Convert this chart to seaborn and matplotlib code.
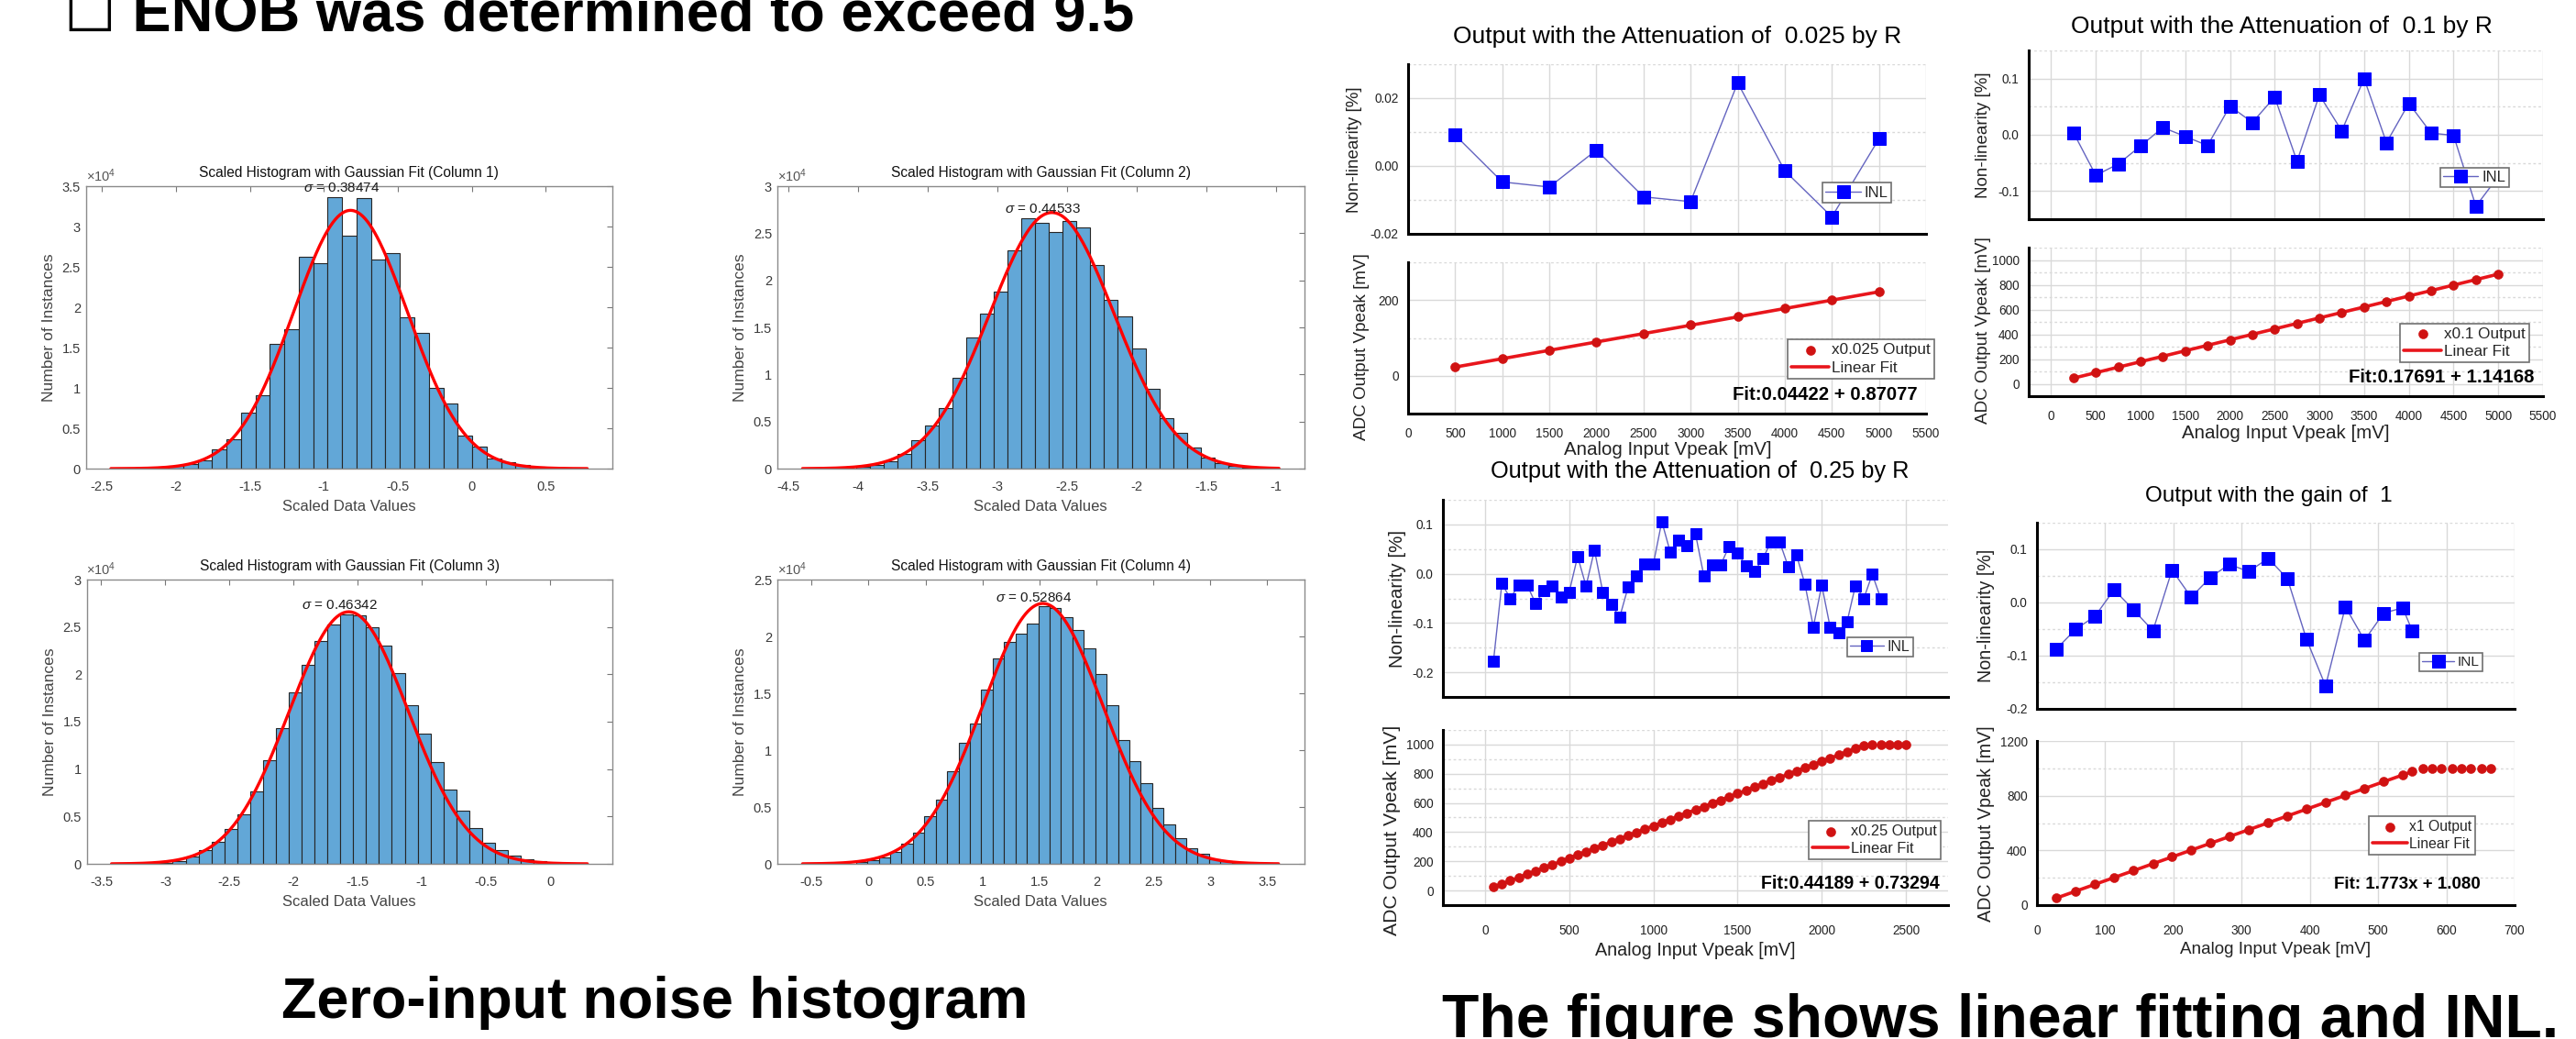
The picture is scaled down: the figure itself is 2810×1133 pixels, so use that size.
import numpy as np
import pandas as pd
import matplotlib
matplotlib.use("Agg")
import matplotlib.pyplot as plt
import seaborn as sns

# ============================ DATA ============================
# ---- zero-input noise histograms (bin counts) ----
hist_titles = [
    "Scaled Histogram with Gaussian Fit (Column 1)",
    "Scaled Histogram with Gaussian Fit (Column 2)",
    "Scaled Histogram with Gaussian Fit (Column 3)",
    "Scaled Histogram with Gaussian Fit (Column 4)",
]
hist_first_edge = [-2.147, -4.015, -3.043, -0.110]
hist_bin_width = [0.0977, 0.0989, 0.1005, 0.1000]
h1_counts = [100, 300, 560, 1050, 2370, 3680, 6960, 9140, 15500, 17300, 26200, 25400,
             33600, 28900, 33500, 25900, 26700, 18800, 16800, 10000, 8100, 4100, 2700,
             1300, 750, 400, 200]
h2_counts = [160, 350, 800, 1510, 3060, 4600, 6380, 9690, 13880, 16450, 18770, 23220,
             26600, 26080, 25120, 26310, 25630, 21610, 17970, 16200, 12780, 8470, 5310,
             3800, 2250, 1160, 580, 260, 100]
h3_counts = [100, 320, 740, 1450, 2290, 3650, 5260, 7680, 10900, 14290, 18070, 20970,
             23490, 25230, 26360, 26190, 25000, 23070, 20100, 16710, 13770, 10710, 7840,
             5650, 3770, 2260, 1450, 870, 480, 260, 130]
h4_counts = [130, 320, 590, 1020, 1800, 2770, 4170, 5650, 8120, 10620, 12310, 15300,
             18090, 19490, 20270, 21150, 22630, 22500, 21690, 20560, 18950, 16670, 13920,
             10890, 9000, 7120, 4920, 3490, 2230, 1340, 860, 400, 215, 110]
hist_counts = [h1_counts, h2_counts, h3_counts, h4_counts]
# Gaussian fit parameters
hist_mu = [-0.82, -2.61, -1.57, 1.53]
hist_sigma = [0.38474, 0.44533, 0.46342, 0.52864]
hist_peak = [32000, 27200, 26600, 22900]
hist_curve_lo = [-2.44, -4.40, -3.42, -0.58]
hist_curve_hi = [0.78, -0.98, 0.29, 3.60]
hist_xticks = [
    [-2.5, -2, -1.5, -1, -0.5, 0, 0.5],
    [-4.5, -4, -3.5, -3, -2.5, -2, -1.5, -1],
    [-3.5, -3, -2.5, -2, -1.5, -1, -0.5, 0],
    [-0.5, 0, 0.5, 1, 1.5, 2, 2.5, 3, 3.5],
]
hist_ymax = [35000, 30000, 30000, 25000]

# ---- linearity / INL panels ----
A_title = "Output with the Attenuation of  0.025 by R"
A_x = [500, 1000, 1500, 2000, 2500, 3000, 3500, 4000, 4500, 5000]
A_inl = [0.0091, -0.0047, -0.0062, 0.0047, -0.0091, -0.0105, 0.0245, -0.0014, -0.0150, 0.0080]
A_out = [23, 45, 67, 89, 112, 134, 156, 178, 200, 222]
A_fit = (0.04422, 0.87077)
A_fit_text = "Fit:0.04422 + 0.87077"
A_legend = "x0.025 Output"

B_title = "Output with the Attenuation of  0.1 by R"
B_x = [250, 500, 750, 1000, 1250, 1500, 1750, 2000, 2250, 2500, 2750, 3000, 3250, 3500,
       3750, 4000, 4250, 4500, 4750, 5000]
B_inl = [0.004, -0.072, -0.052, -0.020, 0.013, -0.003, -0.019, 0.051, 0.022, 0.067,
         -0.047, 0.071, 0.007, 0.100, -0.014, 0.056, 0.003, -0.001, -0.127, -0.074]
B_out = [46, 90, 134, 178, 222, 266, 311, 355, 399, 443, 488, 532, 576, 620, 665, 709,
         753, 797, 842, 886]
B_fit = (0.17691, 1.14168)
B_fit_text = "Fit:0.17691 + 1.14168"
B_legend = "x0.1 Output"

C_title = "Output with the Attenuation of  0.25 by R"
C_inl_x = list(range(50, 2351, 50))
C_inl = [-0.178, -0.020, -0.050, -0.023, -0.023, -0.060, -0.035, -0.024, -0.048, -0.037,
         0.035, -0.025, 0.048, -0.038, -0.062, -0.088, -0.027, -0.004, 0.020, 0.020,
         0.106, 0.044, 0.068, 0.057, 0.081, -0.005, 0.018, 0.018, 0.056, 0.042,
         0.016, 0.004, 0.031, 0.065, 0.065, 0.015, 0.038, -0.021, -0.108, -0.023,
         -0.109, -0.120, -0.098, -0.024, -0.050, -0.001, -0.050]
C_out_x = list(range(50, 2501, 50))
C_out = [23, 45, 67, 89, 111, 133, 155, 178, 200, 222, 244, 266, 288, 310, 332, 354, 376,
         398, 420, 443, 465, 487, 509, 531, 553, 575, 597, 619, 641, 664, 686, 708, 730,
         752, 774, 796, 818, 840, 862, 885, 907, 929, 951, 973, 995, 1000, 1000, 1000,
         1000, 1000]
C_fit = (0.44189, 0.73294)
C_fit_text = "Fit:0.44189 + 0.73294"
C_legend = "x0.25 Output"

D_title = "Output with the gain of  1"
D_inl_x = [28, 57, 85, 113, 141, 170, 198, 226, 254, 282, 310, 339, 367, 395, 423, 452,
           480, 508, 536, 550]
D_inl = [-0.088, -0.050, -0.026, 0.024, -0.013, -0.053, 0.061, 0.010, 0.047, 0.072,
         0.058, 0.083, 0.045, -0.069, -0.157, -0.008, -0.071, -0.020, -0.010, -0.053]
D_out_x = D_inl_x + [565, 579, 593, 608, 622, 636, 651, 665]
D_out = [51, 101, 153, 204, 253, 303, 353, 403, 453, 503, 553, 603, 653, 703, 752, 802,
         852, 902, 953, 977, 1000, 1000, 1000, 1000, 1000, 1000, 1000, 1000]
D_fit = (1.773, 1.080)
D_fit_text = "Fit: 1.773x + 1.080"
D_legend = "x1 Output"

# ============================ STYLE ============================
sns.set_style("white")
plt.rcParams['font.family'] = ['Liberation Sans', 'DejaVu Sans']
plt.rcParams['axes.unicode_minus'] = False
plt.rcParams['mathtext.fontset'] = 'custom'
plt.rcParams['mathtext.rm'] = 'Liberation Sans'
plt.rcParams['mathtext.it'] = 'Liberation Sans:italic'

W, H = 2810, 1133
fig = plt.figure(figsize=(W / 100, H / 100), dpi=100)
fig.patch.set_facecolor('white')


def add_ax(l, t, r, b):
    return fig.add_axes([l / W, 1 - b / H, (r - l) / W, (b - t) / H])


def ftext(x, y, s, **kw):
    return fig.text(x / W, 1 - y / H, s, **kw)


# ============================ HISTOGRAMS ============================
BAR = '#62A7D7'
hist_boxes = [(93.5, 203, 668, 511), (847.6, 203, 1422.5, 511),
              (94.5, 632, 668, 942), (847.6, 632, 1422.5, 942)]
hist_xlims = [(-2.61, 0.95), (-4.583, -0.80), (-3.614, 0.485), (-0.804, 3.824)]

for i in range(4):
    l, t, r, b = hist_boxes[i]
    ax = add_ax(l, t, r, b)
    counts = np.array(hist_counts[i], float)
    w = hist_bin_width[i]
    lo_edge = hist_first_edge[i]
    hi_edge = lo_edge + w * len(counts)
    centers = lo_edge + w * (np.arange(len(counts)) + 0.5)
    df = pd.DataFrame({'value': centers, 'count': counts})
    sns.histplot(data=df, x='value', weights='count', binwidth=w,
                 binrange=(lo_edge, hi_edge - 1e-9), ax=ax, color=BAR,
                 alpha=1.0, edgecolor='#262626', linewidth=0.8)
    xs = np.linspace(hist_curve_lo[i], hist_curve_hi[i], 400)
    ys = hist_peak[i] * np.exp(-0.5 * ((xs - hist_mu[i]) / hist_sigma[i]) ** 2)
    sns.lineplot(x=xs, y=ys, ax=ax, color='#FF0000', lw=2.4)
    ax.set_xlim(*hist_xlims[i])
    ax.set_ylim(0, hist_ymax[i])
    ax.set_xticks(hist_xticks[i])
    ax.set_xticklabels([f"{v:g}" for v in hist_xticks[i]])
    yt = np.arange(0, hist_ymax[i] + 1, 5000)
    ax.set_yticks(yt)
    ax.set_yticklabels([f"{v / 1e4:g}" for v in yt])
    ax.set_xlabel('')
    ax.set_ylabel('')
    for sp in ax.spines.values():
        sp.set_visible(True)
        sp.set_color('#8a8a8a')
        sp.set_linewidth(1.0)
    ax.tick_params(direction='in', top=True, right=True, length=4, width=0.8,
                   color='#777777', labelsize=10.5, labelcolor='#3a3a3a')
    ax.tick_params(axis='x', pad=9)
    ax.tick_params(axis='y', pad=4)
    ax.set_title(hist_titles[i], fontsize=11.2, color='#111111', pad=7)
    ax.text(0.0, 1.008, '×10$^{4}$', transform=ax.transAxes, ha='left', va='bottom',
            fontsize=10.5, color='#555555')
    ax.annotate(f"$\\sigma$ = {hist_sigma[i]:.5f}", xy=(hist_mu[i], max(counts) * 1.02),
                xytext=(-10, -3), textcoords='offset pixels', ha='center', va='bottom',
                fontsize=11, color='#1a1a1a')
    ax.text(0.5, -41 / (b - t), 'Scaled Data Values', transform=ax.transAxes,
            ha='center', va='center', fontsize=12, color='#444444')
    ax.text(-40 / (r - l), 0.5, 'Number of Instances', transform=ax.transAxes,
            rotation=90, ha='center', va='center', fontsize=12.6, color='#444444')

# ============================ LINEARITY PANELS ============================
BLUE = '#0000FF'
INL_LINE = '#6464C0'
RED_DOT = '#D01212'
RED_LINE = '#E8161C'
GRID = '#D9D9D9'


def style_axis(ax, pad):
    ax.spines['top'].set_visible(False)
    ax.spines['right'].set_visible(False)
    for s in ('left', 'bottom'):
        ax.spines[s].set_linewidth(2.2)
        ax.spines[s].set_color('black')
    ax.tick_params(which='major', axis='x', direction='out', length=9, width=2.0, color='black')
    ax.tick_params(which='minor', axis='x', direction='out', length=5, width=2.0, color='black')
    ax.tick_params(which='both', axis='y', direction='out', length=5.5, width=2.0, color='black')
    ax.tick_params(labelsize=9.8, labelcolor='#222222')
    ax.tick_params(axis='x', pad=pad)
    ax.tick_params(axis='y', pad=2)
    ax.set_axisbelow(True)
    ax.grid(which='major', color=GRID, lw=1.0, ls='-')
    ax.grid(which='minor', axis='y', color=GRID, lw=1.0, ls=(0, (2, 2)))
    ax.set_xlabel('')
    ax.set_ylabel('')


def panel(top_box, bot_box, xlim, xmaj, xmin, top_ylim, top_ymaj, top_ylabels, top_ymin,
          bot_ylim, bot_ymaj, bot_ymin, inl_x, inl_y, out_x, out_y, fit, fit_range,
          fit_text, leg_label, title, title_xy, nl_xy, adc_xy, xlab_xy,
          inl_leg_anchor, out_leg_anchor, fit_xy, fs=1.0, ms=9, lab_fs=(13.5, 13.6),
          xpad=2):
    ax_t = add_ax(*top_box)
    ax_b = add_ax(*bot_box)
    # top : INL
    sns.lineplot(x=inl_x, y=inl_y, ax=ax_t, color=INL_LINE, lw=1.0, marker='s',
                 markersize=ms, markerfacecolor=BLUE, markeredgecolor=BLUE,
                 label='INL', zorder=3)
    # bottom : output + fit
    sns.scatterplot(x=out_x, y=out_y, ax=ax_b, color=RED_DOT, s=52, edgecolor=RED_DOT,
                    linewidth=0.4, label=leg_label, zorder=4)
    fx = np.array(fit_range, float)
    sns.lineplot(x=fx, y=fit[0] * fx + fit[1], ax=ax_b, color=RED_LINE, lw=2.6,
                 label='Linear Fit', zorder=3)
    for ax in (ax_t, ax_b):
        style_axis(ax, xpad)
        ax.set_xlim(*xlim)
        ax.set_xticks(xmaj)
        ax.set_xticks(xmin, minor=True)
    ax_t.tick_params(labelbottom=False)
    ax_b.set_xticklabels([f"{v:g}" for v in xmaj])
    ax_t.set_ylim(*top_ylim)
    ax_t.set_yticks(top_ymaj)
    ax_t.set_yticklabels(top_ylabels)
    ax_t.set_yticks(top_ymin, minor=True)
    ax_b.set_ylim(*bot_ylim)
    ax_b.set_yticks(bot_ymaj)
    ax_b.set_yticklabels([f"{v:g}" for v in bot_ymaj])
    ax_b.set_yticks(bot_ymin, minor=True)
    # legends
    lg = ax_t.legend(loc='upper left', bbox_to_anchor=inl_leg_anchor, fontsize=12 * fs,
                     frameon=True, fancybox=False, framealpha=1, edgecolor='#707070',
                     borderpad=0.2, handlelength=2.3, handletextpad=0.25, borderaxespad=0)
    lg.get_frame().set_linewidth(1.2)
    lg.set_zorder(10)
    h, lbl = ax_b.get_legend_handles_labels()
    order = [lbl.index(leg_label), lbl.index('Linear Fit')]
    lg2 = ax_b.legend([h[k] for k in order], [lbl[k] for k in order], loc='upper left',
                      bbox_to_anchor=out_leg_anchor, fontsize=12.3 * fs, frameon=True,
                      fancybox=False, framealpha=1, edgecolor='#707070', borderpad=0.25,
                      handlelength=2.4, handletextpad=0.15, labelspacing=0.25,
                      borderaxespad=0, scatterpoints=1)
    lg2.get_frame().set_linewidth(1.2)
    lg2.set_zorder(10)
    ax_b.text(fit_xy[0], fit_xy[1], fit_text, transform=ax_b.transAxes, ha='right',
              va='center', fontsize=14.7 * fs, fontweight='bold', color='black', zorder=11)
    # texts
    ftext(*title_xy, title, ha='center', va='center', fontsize=19 * min(fs, 1.0),
          color='black')
    ftext(*nl_xy, 'Non-linearity [%]', rotation=90, ha='center', va='center',
          fontsize=lab_fs[0], color='#222222')
    ftext(*adc_xy, 'ADC Output Vpeak [mV]', rotation=90, ha='center', va='center',
          fontsize=lab_fs[1], color='#222222')
    ftext(*xlab_xy, 'Analog Input Vpeak [mV]', ha='center', va='center',
          fontsize=14.8 * fs, color='#222222')


# Panel A
panel(top_box=(1536, 70, 2101, 255), bot_box=(1536, 286, 2101, 451),
      xlim=(0, 5500), xmaj=list(range(0, 5501, 500)), xmin=list(range(250, 5500, 500)),
      top_ylim=(-0.02, 0.03), top_ymaj=[-0.02, 0.0, 0.02],
      top_ylabels=['-0.02', '0.00', '0.02'], top_ymin=[-0.01, 0.01, 0.03],
      bot_ylim=(-100, 300), bot_ymaj=[0, 200], bot_ymin=[-100, 100, 300],
      inl_x=A_x, inl_y=A_inl, out_x=A_x, out_y=A_out, fit=A_fit, fit_range=(500, 5000),
      fit_text=A_fit_text, leg_label=A_legend, title=A_title, title_xy=(1830, 40),
      nl_xy=(1478, 163), adc_xy=(1485, 378), xlab_xy=(1819, 490),
      inl_leg_anchor=(0.80, 0.30), out_leg_anchor=(0.733, 0.49), fit_xy=(0.984, 0.122),
      fs=1.0, ms=9.5)

# Panel B
panel(top_box=(2213, 55, 2774, 239), bot_box=(2213, 270, 2774, 432),
      xlim=(-250, 5500), xmaj=list(range(0, 5501, 500)), xmin=list(range(-250, 5500, 500)),
      top_ylim=(-0.15, 0.15), top_ymaj=[-0.1, 0.0, 0.1],
      top_ylabels=['-0.1', '0.0', '0.1'], top_ymin=[-0.15, -0.05, 0.05, 0.15],
      bot_ylim=(-100, 1100), bot_ymaj=[0, 200, 400, 600, 800, 1000],
      bot_ymin=[-100, 100, 300, 500, 700, 900, 1100],
      inl_x=B_x, inl_y=B_inl, out_x=B_x, out_y=B_out, fit=B_fit, fit_range=(250, 5000),
      fit_text=B_fit_text, leg_label=B_legend, title=B_title, title_xy=(2489, 29),
      nl_xy=(2163, 147), adc_xy=(2163, 360), xlab_xy=(2493, 473),
      inl_leg_anchor=(0.80, 0.306), out_leg_anchor=(0.722, 0.49), fit_xy=(0.982, 0.124),
      fs=1.0, ms=9.5)

# Panel C
panel(top_box=(1574, 545, 2125, 760), bot_box=(1574, 796, 2125, 987),
      xlim=(-250, 2750), xmaj=list(range(0, 2501, 500)), xmin=list(range(-250, 2751, 500)),
      top_ylim=(-0.25, 0.15), top_ymaj=[-0.2, -0.1, 0.0, 0.1],
      top_ylabels=['-0.2', '-0.1', '0.0', '0.1'], top_ymin=[-0.25, -0.15, -0.05, 0.05, 0.15],
      bot_ylim=(-100, 1100), bot_ymaj=[0, 200, 400, 600, 800, 1000],
      bot_ymin=[-100, 100, 300, 500, 700, 900, 1100],
      inl_x=C_inl_x, inl_y=C_inl, out_x=C_out_x, out_y=C_out, fit=C_fit,
      fit_range=(50, 2250), fit_text=C_fit_text, leg_label=C_legend, title=C_title,
      title_xy=(1854, 514), nl_xy=(1525, 653), adc_xy=(1518, 905), xlab_xy=(1849, 1037),
      inl_leg_anchor=(0.80, 0.304), out_leg_anchor=(0.724, 0.483), fit_xy=(0.984, 0.123),
      fs=0.96, ms=9, lab_fs=(14.8, 15.2), xpad=6)

# Panel D
panel(top_box=(2222, 570, 2743, 773), bot_box=(2222, 808, 2743, 987),
      xlim=(0, 700), xmaj=list(range(0, 701, 100)), xmin=list(range(50, 700, 100)),
      top_ylim=(-0.2, 0.15), top_ymaj=[-0.2, -0.1, 0.0, 0.1],
      top_ylabels=['-0.2', '-0.1', '0.0', '0.1'], top_ymin=[-0.15, -0.05, 0.05, 0.15],
      bot_ylim=(0, 1200), bot_ymaj=[0, 400, 800, 1200], bot_ymin=[200, 600, 1000],
      inl_x=D_inl_x, inl_y=D_inl, out_x=D_out_x, out_y=D_out, fit=D_fit,
      fit_range=(28, 550), fit_text=D_fit_text, leg_label=D_legend, title=D_title,
      title_xy=(2475, 541), nl_xy=(2166, 671), adc_xy=(2166, 898), xlab_xy=(2482, 1035),
      inl_leg_anchor=(0.80, 0.30), out_leg_anchor=(0.695, 0.543), fit_xy=(0.929, 0.125),
      fs=0.92, ms=9.5, lab_fs=(14.2, 14.2), xpad=6)

# ============================ FIGURE TEXT ============================
ftext(70, 33, "☐ ENOB was determined to exceed 9.5", ha='left', va='baseline',
      fontsize=45.5, fontweight='bold', color='black')
ftext(714, 1110, "Zero-input noise histogram", ha='center', va='baseline',
      fontsize=45.3, fontweight='bold', color='black')
ftext(1573, 1131, "The figure shows linear fitting and INL.", ha='left', va='baseline',
      fontsize=47.5, fontweight='bold', color='black')

fig.savefig("out.png", dpi=100, facecolor='white')
